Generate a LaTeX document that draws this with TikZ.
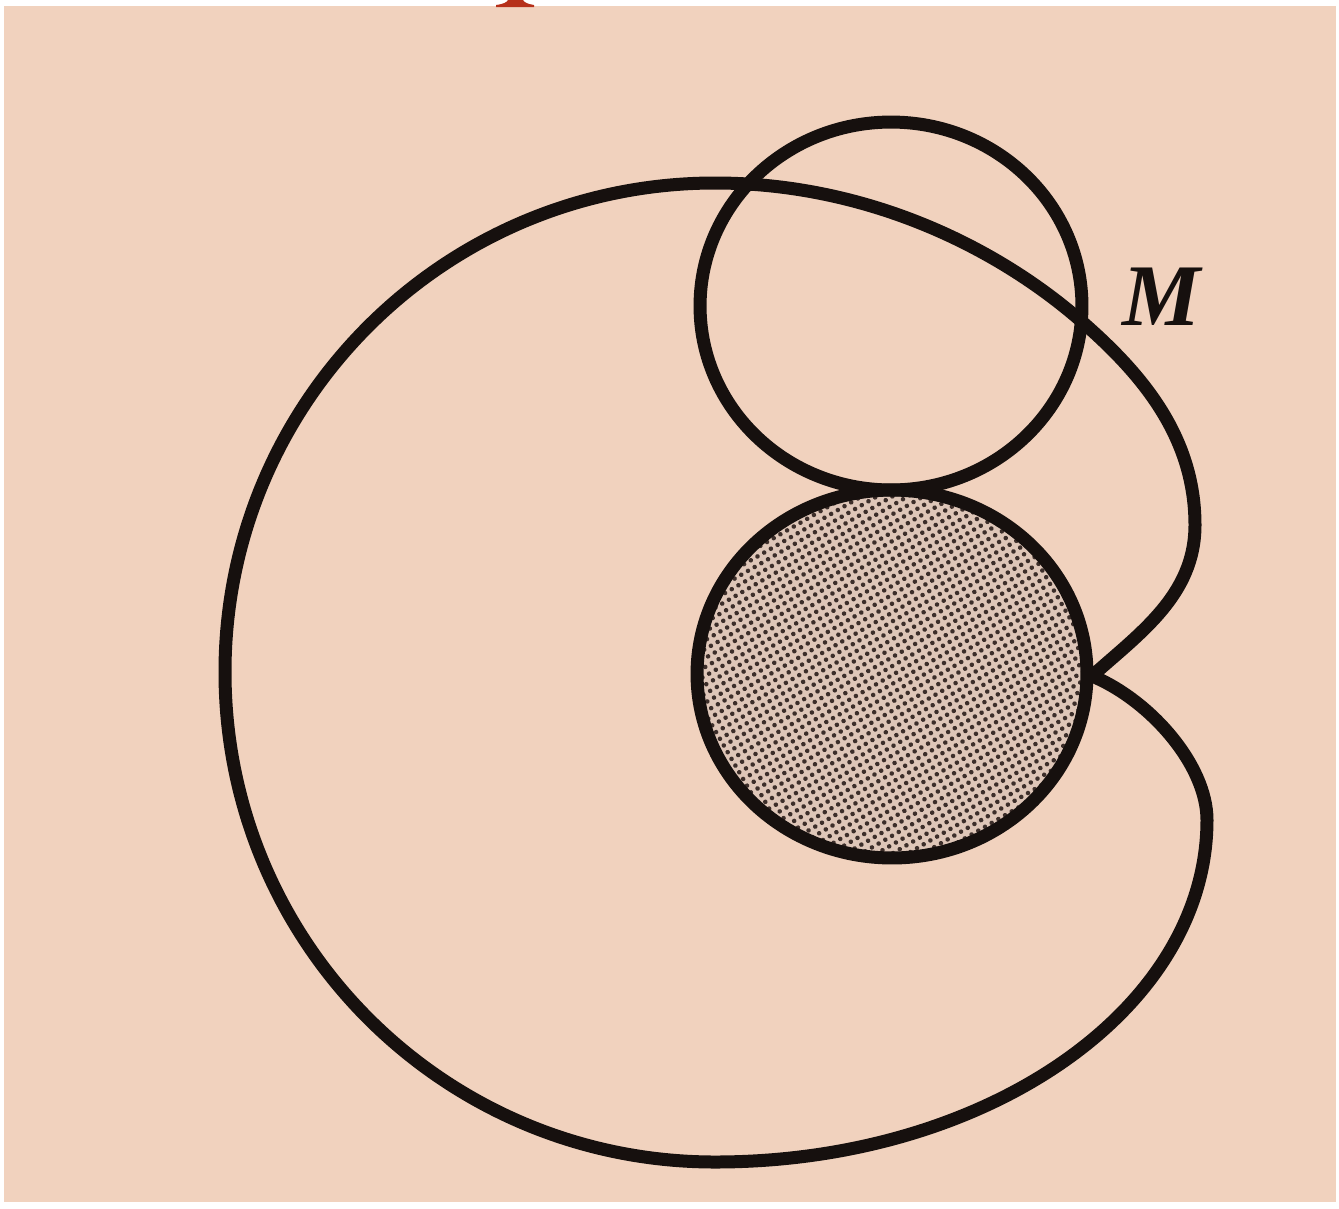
\documentclass[tikz,border=0pt]{standalone}
\usepackage{fontspec}
\setmainfont{Liberation Serif}
\usetikzlibrary{patterns.meta}
\definecolor{paper}{RGB}{241,210,190}
\definecolor{ink}{RGB}{22,16,14}
\definecolor{dotfill}{RGB}{222,198,184}
\definecolor{dotink}{RGB}{60,46,42}
\definecolor{glyph}{RGB}{182,48,26}
\begin{document}
\begin{tikzpicture}[x=0.02cm,y=-0.02cm,
  curve/.style={line width=0.26cm, draw=ink, line join=round},
  lbl/.style={font=\fontsize{50}{50}\selectfont\bfseries\itshape, text=ink, inner sep=0pt}]
\fill[white] (0,0) rectangle (1339,1208);
\useasboundingbox (0,0) rectangle (1339,1208);
\fill[paper] (4,6) rectangle (1336,1202);
% red glyph foot at the top edge
\fill[glyph] (496,7) -- (534,7) -- (534,5) .. controls (527,4) and (524,2) .. (523,0) -- (508,0) .. controls (507,2) and (504,4) .. (496,5) -- cycle;
% shaded circle
\fill[dotfill] (892,674) ellipse [x radius=3.9cm, y radius=3.68cm];
\fill[pattern={Dots[distance=4.4pt, radius=1.3pt, angle=30]}, pattern color=dotink]
  (892,674) ellipse [x radius=3.9cm, y radius=3.68cm];
% outer curve
\coordinate (c) at (1092,676);
\draw[curve] (c)
  .. controls (1140,633) and (1195,595) .. (1195,525)
  .. controls (1195,435) and (1140,372) .. (1080,320)
  .. controls (990,242) and (860,183) .. (715,183)
  .. controls (444,183) and (225,402) .. (225,672)
  .. controls (225,943) and (444,1162) .. (715,1162)
  .. controls (987,1162) and (1207,1009) .. (1207,820)
  .. controls (1207,765) and (1150,700) .. (c);
% top circle
\draw[curve] (891,306) ellipse [x radius=3.82cm, y radius=3.68cm];
% shaded circle outline
\draw[curve] (892,674) ellipse [x radius=3.9cm, y radius=3.68cm];
\node[lbl] (m) at (1162,297) {M};
\end{tikzpicture}
\end{document}
